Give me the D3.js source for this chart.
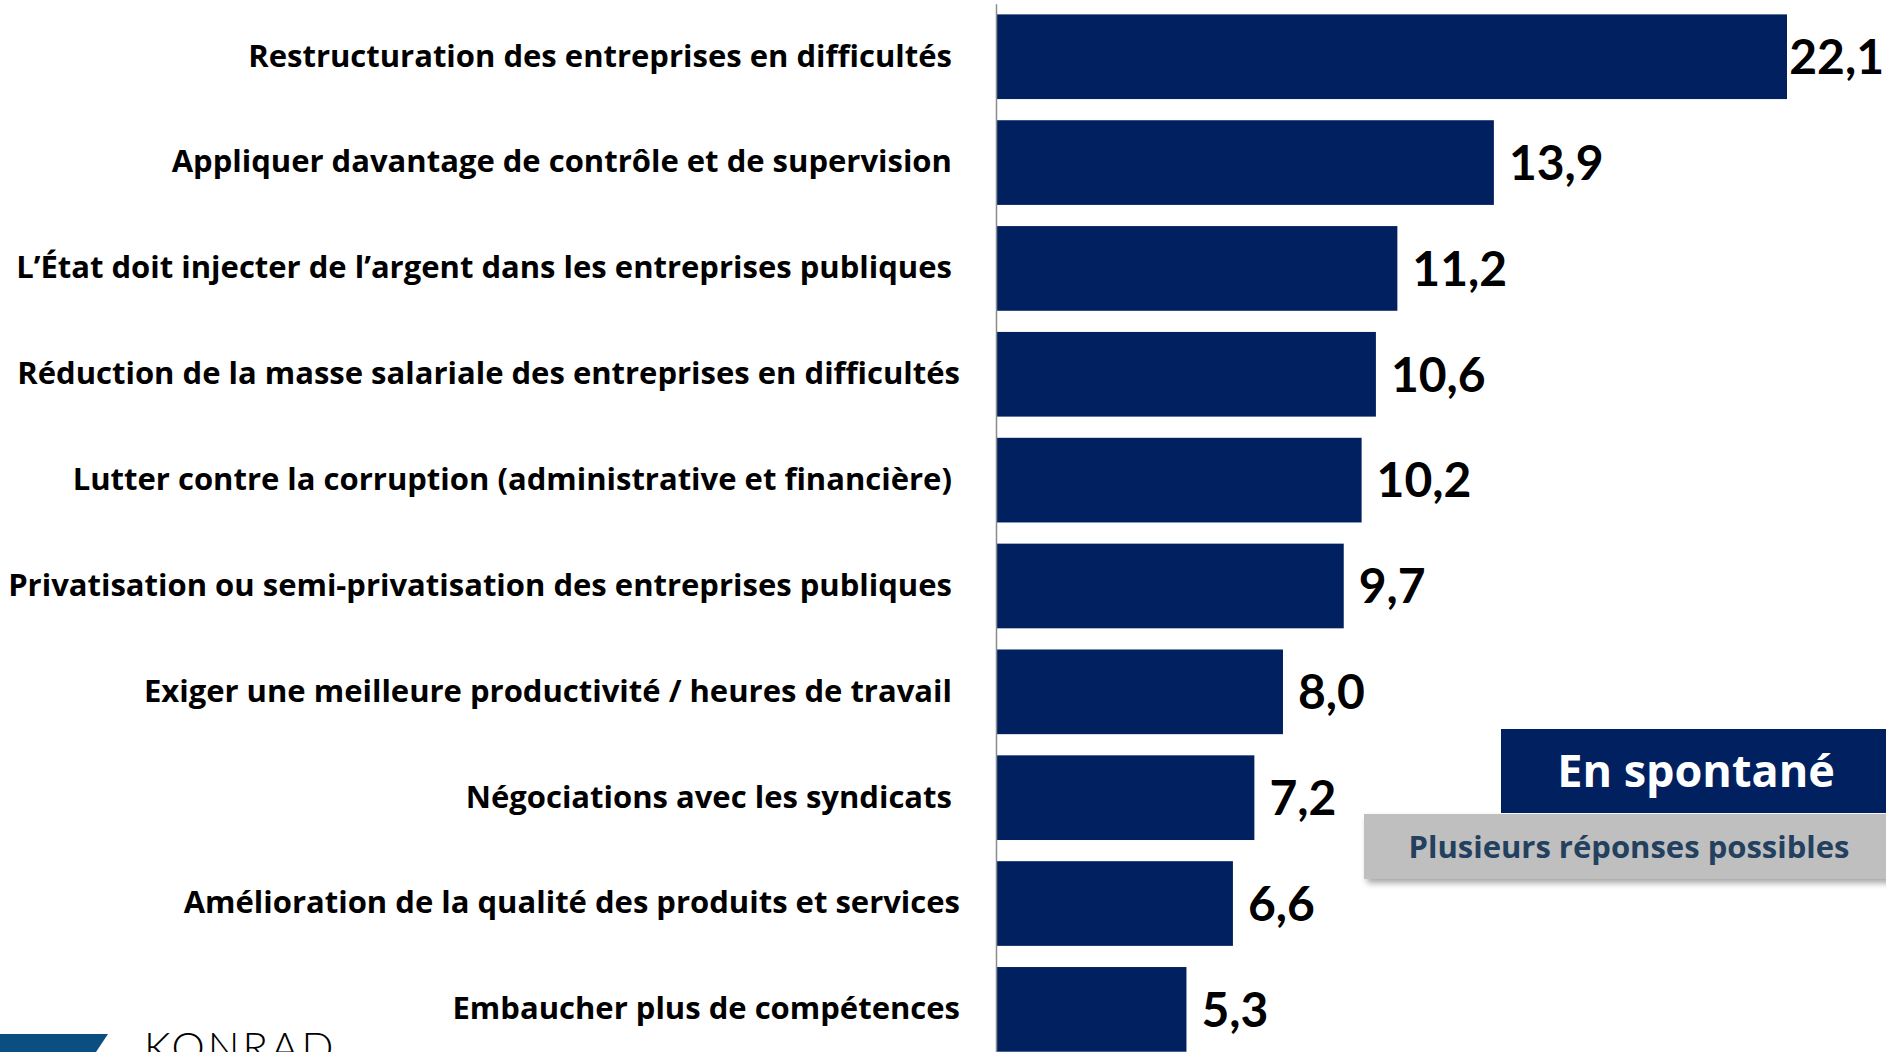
<!DOCTYPE html>
<html>
<head>
<meta charset="utf-8">
<script src="https://cdn.jsdelivr.net/npm/d3@7"></script>
<style>
  body { margin: 0; background: #fff; }
  svg { display: block; font-family: Lato, "Open Sans", sans-serif; }
</style>
</head>
<body>
<div id="chart"></div>
<script>
// data
var categories = [
    "Restructuration des entreprises en difficultés\u00a0",
    "Appliquer davantage de contrôle et de supervision\u00a0",
    "L’État doit injecter de l’argent dans les entreprises publiques\u00a0",
    "Réduction de la masse salariale des entreprises en difficultés",
    "Lutter contre la corruption (administrative et financière)\u00a0",
    "Privatisation ou semi-privatisation des entreprises publiques\u00a0",
    "Exiger une meilleure productivité / heures de travail\u00a0",
    "Négociations avec les syndicats\u00a0",
    "Amélioration de la qualité des produits et services",
    "Embaucher plus de compétences"
];
var values = [22.1, 13.9, 11.2, 10.6, 10.2, 9.7, 8.0, 7.2, 6.6, 5.3];
var badgeTitle = "En spontané";
var badgeNote = "Plusieurs réponses possibles";
var logoText = "KONRAD";

var width = 1886,
    height = 1052;

var navy = "#002060";

var fr = d3.formatLocale({decimal: ",", thousands: " ", grouping: [3], currency: ["", " €"]});
var fmt = fr.format(".1f");

var svg = d3.select("#chart").append("svg")
    .attr("width", width)
    .attr("height", height);

var x = d3.scaleLinear()
    .domain([0, d3.max(values)])
    .range([997, 1787]);

var y = d3.scaleBand()
    .domain(categories)
    .range([3.8, 1062.3])
    .paddingInner(0.2)
    .paddingOuter(0.1);

var rows = categories.map(function(c, i) { return {cat: c, value: values[i]}; });

// bars
svg.append("g")
    .selectAll("rect")
    .data(rows)
    .enter().append("rect")
    .attr("x", x(0))
    .attr("y", function(d) { return y(d.cat); })
    .attr("width", function(d) { return x(d.value) - x(0); })
    .attr("height", y.bandwidth())
    .attr("fill", navy);

// category axis
var axis = svg.append("g")
    .attr("transform", "translate(" + (x(0) - 1) + ",0)")
    .call(d3.axisLeft(y).tickSize(0).tickPadding(36));

axis.select(".domain")
    .attr("stroke", "#8c8c8c")
    .attr("stroke-width", 1.5);

axis.selectAll("text")
    .attr("font-family", "'Open Sans', sans-serif")
    .attr("font-weight", 700)
    .attr("font-size", 31)
    .attr("fill", "#000");

// value labels
var vals = svg.append("g")
    .selectAll("text")
    .data(rows)
    .enter().append("text")
    .attr("y", function(d) { return y(d.cat) + y.bandwidth() / 2; })
    .attr("dy", "0.36em")
    .attr("font-weight", 700)
    .attr("font-size", 48)
    .attr("fill", "#000")
    .text(function(d) { return fmt(d.value); });

vals.attr("x", function(d) {
    var w = this.getComputedTextLength();
    return Math.min(x(d.value) + 15, width - w - 2);
});

// badge
var badge = svg.append("g");

badge.append("rect")
    .attr("x", 1501).attr("y", 729)
    .attr("width", width - 1501).attr("height", 84)
    .attr("fill", navy);

badge.append("text")
    .attr("x", 1696).attr("y", 771)
    .attr("dy", "0.36em")
    .attr("text-anchor", "middle")
    .attr("font-family", "'Open Sans', sans-serif")
    .attr("font-weight", 700)
    .attr("font-size", 45)
    .attr("fill", "#fff")
    .text(badgeTitle);

var shadow = svg.append("defs").append("filter")
    .attr("id", "shadow")
    .attr("x", "-5%").attr("y", "-20%")
    .attr("width", "115%").attr("height", "150%");
shadow.append("feDropShadow")
    .attr("dx", 3).attr("dy", 4)
    .attr("stdDeviation", 3)
    .attr("flood-color", "#000")
    .attr("flood-opacity", 0.35);

badge.append("rect")
    .attr("x", 1364).attr("y", 814)
    .attr("width", width - 1364 + 10).attr("height", 65)
    .attr("fill", "#bfbfbf")
    .attr("filter", "url(#shadow)");

badge.append("text")
    .attr("x", 1629).attr("y", 847)
    .attr("dy", "0.36em")
    .attr("text-anchor", "middle")
    .attr("font-family", "'Open Sans', sans-serif")
    .attr("font-weight", 700)
    .attr("font-size", 31)
    .attr("fill", "#23405f")
    .text(badgeNote);

// logo (cut by the bottom edge)
svg.append("path")
    .attr("d", "M0,1034 L108,1034 L96,1052 L0,1052 Z")
    .attr("fill", "#0a4f80");

svg.append("text")
    .attr("x", 144).attr("y", 1062)
    .attr("font-weight", 300)
    .attr("font-size", 42)
    .attr("letter-spacing", 3)
    .attr("fill", "#000")
    .text(logoText);
</script>
</body>
</html>
